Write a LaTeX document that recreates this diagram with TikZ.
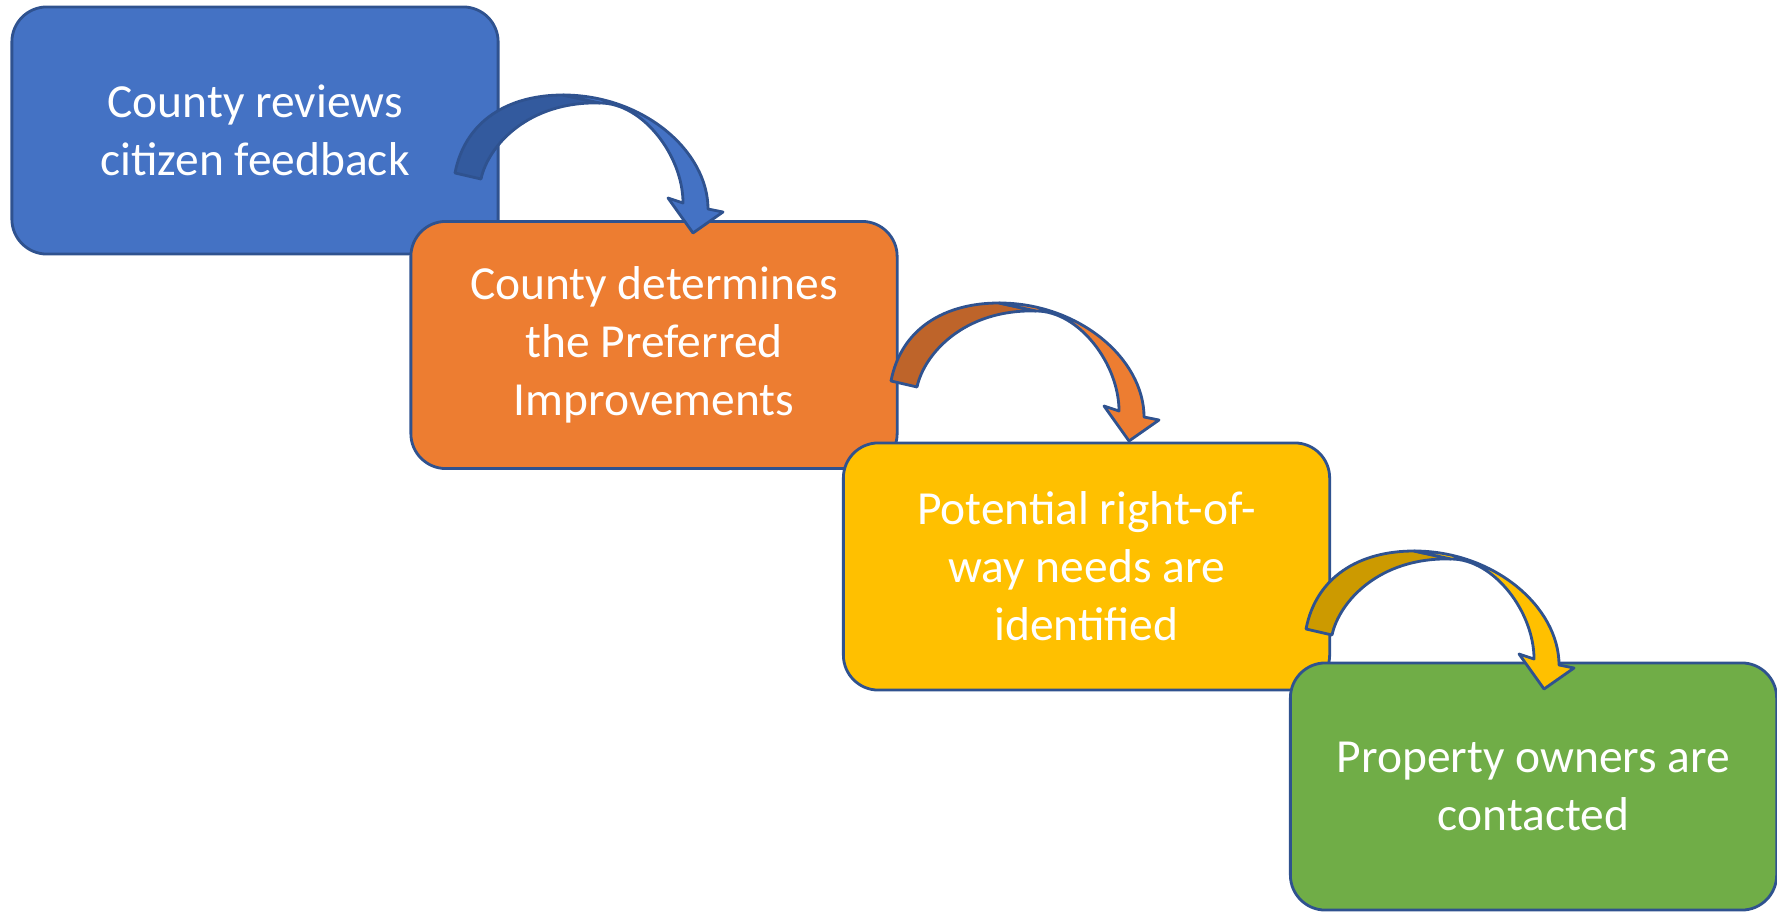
\documentclass[tikz,border=0pt]{standalone}
\usepackage{fontspec}
\setmainfont{Carlito}
\definecolor{edgeblue}{HTML}{2F528F}
\definecolor{stepblue}{HTML}{4472C4}
\definecolor{steporange}{HTML}{ED7D31}
\definecolor{stepgold}{HTML}{FFC000}
\definecolor{stepgreen}{HTML}{70AD47}
\definecolor{shadeblue}{HTML}{335A9E}
\definecolor{shadeorange}{HTML}{BE642A}
\definecolor{shadegold}{HTML}{CC9A00}

\begin{document}
\begin{tikzpicture}[x=0.01cm,y=-0.01cm,
  box/.style={draw=edgeblue,line width=0.8pt,rounded corners=0.35cm,
    minimum width=4.86cm,minimum height=2.47cm,text=white,align=center,
    font=\fontsize{13.5}{16.5}\selectfont},
  pics/bentarrow/.style n args={2}{code={
    \draw[edgeblue,line width=0.8pt,fill=#2,line join=round]
      (-13,-3) .. controls (-3,-55) and (40,-81) .. (95,-81) -- (132,-73)
      .. controls (60,-75) and (20,-30) .. (13,3) -- cycle;
    \draw[edgeblue,line width=0.8pt,fill=#1,line join=round]
      (95,-81) .. controls (175,-81) and (240,-25) .. (240,33) -- (255,36)
      -- (225,57) -- (200,22) -- (215,27)
      .. controls (215,-20) and (175,-73) .. (132,-73) -- cycle;
  }}]

\useasboundingbox (0,0) rectangle (1777,916);

\node[box,fill=stepblue] (review) at (255,130.5) {County reviews\\citizen feedback};
\node[box,fill=steporange] (prefer) at (654,345) {County determines\\the Preferred\\Improvements};
\node[box,fill=stepgold] (needs) at (1086.5,566.5) {Potential right-of-\\way needs are\\identified};
\node[box,fill=stepgreen] (owners) at (1533.5,786.5) {Property owners are\\contacted};

\pic at (468,176) {bentarrow={stepblue}{shadeblue}};
\pic at (904,384) {bentarrow={steporange}{shadeorange}};
\pic at (1319,632) {bentarrow={stepgold}{shadegold}};
\end{tikzpicture}
\end{document}
